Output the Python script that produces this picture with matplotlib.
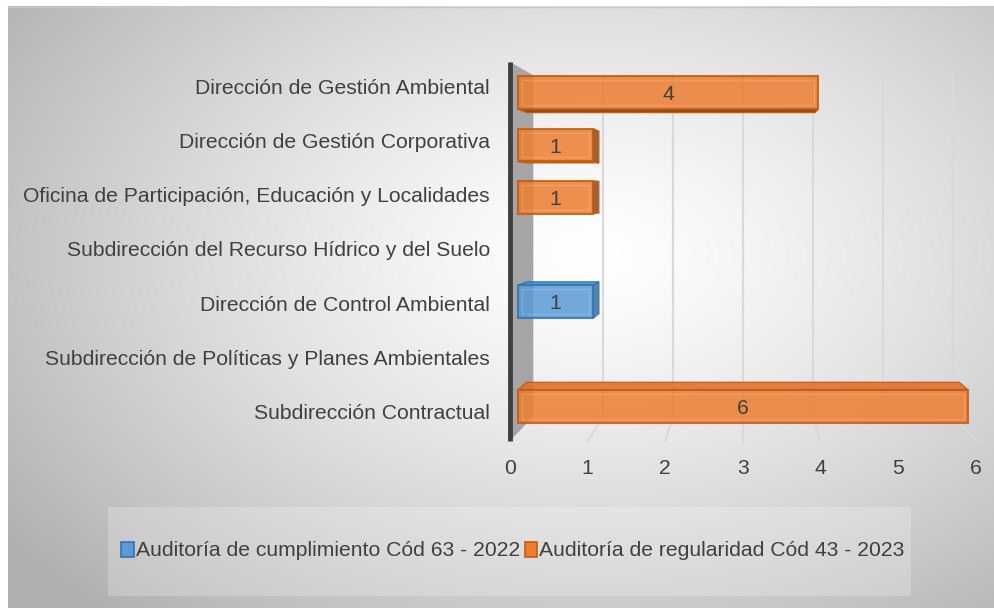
import numpy as np
import matplotlib
matplotlib.use("Agg")
import matplotlib.pyplot as plt
from matplotlib.patches import Polygon, Rectangle

# ---------------- data ----------------
categories = [
    "Subdirección Contractual",
    "Subdirección de Políticas y Planes Ambientales",
    "Dirección de Control Ambiental",
    "Subdirección del Recurso Hídrico y del Suelo",
    "Oficina de Participación, Educación y Localidades",
    "Dirección de Gestión Corporativa",
    "Dirección de Gestión Ambiental",
]
series_names = ["Auditoría de cumplimiento Cód 63 - 2022",
                "Auditoría de regularidad Cód 43 - 2023"]
cumplimiento_2022 = [0, 0, 1, 0, 0, 0, 0]
regularidad_2023 = [6, 0, 0, 0, 1, 1, 4]
x_ticks = [0, 1, 2, 3, 4, 5, 6]

face_colors = ["#5B9BD5", "#ED7D31"]
edge_colors = ["#2E75B6", "#C55A11"]
top_colors = ["#4F8CC6", "#DD7232"]
dark_colors = ["#3E6E9C", "#8A4A1E"]
text_color = "#404040"
FS = 15.2

plt.rcParams["font.family"] = ["Liberation Sans", "DejaVu Sans"]

W, H = 994, 608
fig = plt.figure(figsize=(W / 100, H / 100), dpi=100)
fig.patch.set_facecolor("white")

# ---------------- background (radial gradient) ----------------
bg = fig.add_axes([0, 0, 1, 1])
bg.axis("off")
yy, xx = np.mgrid[0:H, 0:W]
r = np.sqrt(((xx - 590) / 640.0) ** 2 + ((yy - 250) / 430.0) ** 2)
g = 1.0 - 0.26 * np.clip(r, 0, 1.15) ** 1.3
img = np.dstack([g, g, g])
bg.imshow(img, extent=(8, W, H, 6), zorder=0, interpolation="bilinear")
bg.plot([8, W], [6.5, 6.5], color="#c8c8c8", lw=1, zorder=1)
# legend area
bg.add_patch(Rectangle((108, 507), 803, 89, facecolor="white", alpha=0.22,
                       edgecolor="none", zorder=1))
bg.set_xlim(0, W)
bg.set_ylim(H, 0)

# ---------------- main axes ----------------
x0, x1 = 510, 976
ybot, ytop = 441, 62
ax = fig.add_axes([x0 / W, (H - ybot) / H, (x1 - x0) / W, (ybot - ytop) / H])
ax.set_xlim(0, 6)
ax.set_ylim(-0.5, 6.5)
ax.axis("off")
ax.patch.set_alpha(0)

V = np.array([743.0, H - 195.0])  # vanishing reference in display px


def P(v, y, t):
    d = ax.transData.transform((v, y))
    k = 1 - 0.1 * t
    return V + (d - V) * k


def poly(pts, **kw):
    p = Polygon(np.array(pts), closed=True, transform=None, **kw)
    fig.add_artist(p)
    return p


def line(p, q, **kw):
    fig.add_artist(plt.Line2D([p[0], q[0]], [p[1], q[1]], transform=None, **kw))


ylo, yhi = ax.get_ylim()
# back wall + floor gridlines
for v in x_ticks[1:]:
    line(P(v, ylo, 1), P(v, yhi, 1), color="#d9d9d9", lw=1.5, zorder=2)
    line(P(v, ylo, 1), P(v, ylo, 0), color="#d9d9d9", lw=1.5, zorder=2)

# left wall
poly([P(0, ylo, 0), P(0, yhi, 0), P(0, yhi, 1), P(0, ylo, 1)],
     facecolor="#a5a5a5", edgecolor="none", zorder=3)
line(P(0, ylo, 0), P(0, yhi, 0), color="#3f3f3f", lw=3.5, zorder=4,
     solid_capstyle="butt")

# ---------------- 3D bars ----------------
bh = 0.63
t0, t1 = 0.35, 0.72
for si, vals in enumerate([cumplimiento_2022, regularidad_2023]):
    for i, v in enumerate(vals):
        if v <= 0:
            continue
        yb, yt = i - bh / 2, i + bh / 2
        fc, ec, tc, dc = face_colors[si], edge_colors[si], top_colors[si], dark_colors[si]
        # top face
        if P(0, yt, t0)[1] < V[1]:
            poly([P(0, yt, t0), P(v, yt, t0), P(v, yt, t1), P(0, yt, t1)],
                 facecolor=tc, edgecolor=ec, lw=1, alpha=0.9, zorder=5)
        # bottom face
        if P(0, yb, t0)[1] > V[1]:
            poly([P(0, yb, t0), P(v, yb, t0), P(v, yb, t1), P(0, yb, t1)],
                 facecolor=dc, edgecolor=ec, lw=1, zorder=5)
        # right end
        if P(v, yb, t0)[0] < V[0]:
            poly([P(v, yb, t0), P(v, yt, t0), P(v, yt, t1), P(v, yb, t1)],
                 facecolor=dc, edgecolor=ec, lw=1, alpha=0.85, zorder=5)
        # front face
        poly([P(0, yb, t0), P(v, yb, t0), P(v, yt, t0), P(0, yt, t0)],
             facecolor=fc, edgecolor=ec, lw=1.5, alpha=0.85, zorder=6)
        # inner bevel highlight
        a, b = P(0, yb, t0), P(v, yt, t0)
        ins = 4
        poly([(a[0] + ins, a[1] + ins), (b[0] - ins, a[1] + ins),
              (b[0] - ins, b[1] - ins), (a[0] + ins, b[1] - ins)],
             facecolor="none", edgecolor="white", lw=1, alpha=0.15, zorder=7)
        c = P(v / 2, i, t0)
        fig.text(c[0] / W, (c[1] - 2) / H, str(v), ha="center", va="center",
                 fontsize=FS, color=text_color, zorder=8)

# ---------------- labels ----------------
for v in x_ticks:
    p = P(v, ylo, 0)
    fig.text(p[0] / W, (p[1] - 27) / H, str(v), ha="center", va="center",
             fontsize=FS, color=text_color)

for i, name in enumerate(categories):
    p = ax.transData.transform((0, i))
    fig.text((p[0] - 20) / W, (p[1] + 0.5) / H, name, ha="right", va="center",
             fontsize=FS, color=text_color)

handles = [Rectangle((0, 0), 1, 1, facecolor=face_colors[k], edgecolor=edge_colors[k], lw=1.2)
           for k in range(2)]
fig.legend(handles, series_names, loc="center", bbox_to_anchor=(513 / W, 1 - 551 / H),
           ncol=2, frameon=False, fontsize=FS, handlelength=0.6, handleheight=0.7,
           handletextpad=0.1, columnspacing=0.2, labelcolor=text_color)

fig.savefig("out.png", dpi=100)
